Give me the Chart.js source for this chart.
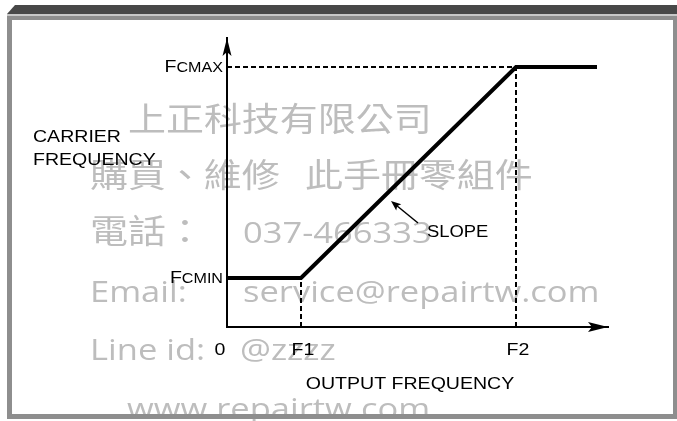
<!DOCTYPE html>
<html>
<head>
<meta charset="utf-8">
<script src="https://cdn.jsdelivr.net/npm/chart.js@4"></script>
<style>
html, body { margin: 0; padding: 0; background: #fff; }
canvas { display: block; }
</style>
</head>
<body>
<canvas id="chart" width="677" height="421"></canvas>
<script>
// values (schematic units)
const outputFreq = [0, 7.4, 28.9, 37];
const carrierFreq = [4.9, 4.9, 26, 26];
const xTickValues = [0, 7.4, 28.9];
const xTickLabels = ['0', 'F1', 'F2'];
const yTickValues = [4.9, 26];
const yTickLabels = ['FcMIN', 'FcMAX'];

const F1 = xTickValues[1];
const F2 = xTickValues[2];
const FC_MIN = yTickValues[0];
const FC_MAX = yTickValues[1];

const SX = 1.15; // the scan is a bit wider than tall
const LABEL_FONT = '"Liberation Sans", Arial, sans-serif';

// watermark text over the scan
const watermark = [
    { text: '上正科技有限公司', x: 128, y: 131, cjk: true },
    { text: '購買、維修', x: 90, y: 187, cjk: true },
    { text: '此手冊零組件', x: 305, y: 187, cjk: true },
    { text: '電話：', x: 90, y: 243, cjk: true },
    { text: '037-466333', x: 243, y: 243 },
    { text: 'Email:', x: 90, y: 302 },
    { text: 'service@repairtw.com', x: 243, y: 302 },
    { text: 'Line id:', x: 90, y: 360 },
    { text: '@zzzz', x: 240, y: 360 },
    { text: 'www.repairtw.com', x: 127, y: 419 }
];

function drawText(ctx, text, x, y, size, align, font) {
    ctx.save();
    ctx.font = size + 'px ' + (font || LABEL_FONT);
    ctx.textAlign = align || 'left';
    ctx.textBaseline = 'alphabetic';
    ctx.translate(x, y);
    ctx.scale(SX, 1);
    ctx.fillText(text, 0, 0);
    ctx.restore();
}

function arrowHead(ctx, x, y, angle, len, half, notch) {
    ctx.save();
    ctx.translate(x, y);
    ctx.rotate(angle);
    ctx.beginPath();
    ctx.moveTo(0, 0);
    ctx.lineTo(-len, -half);
    ctx.lineTo(-len + notch, 0);
    ctx.lineTo(-len, half);
    ctx.closePath();
    ctx.fill();
    ctx.restore();
}

const scanPlugin = {
    id: 'scan',
    beforeDraw(chart) {
        const ctx = chart.ctx;
        ctx.save();
        ctx.fillStyle = '#fff';
        ctx.fillRect(0, 0, chart.width, chart.height);
        ctx.fillStyle = '#bdbdbd';
        watermark.forEach(w => {
            if (w.cjk) drawText(ctx, w.text, w.x, w.y, 33, 'left', '"Noto Sans CJK TC", sans-serif');
            else drawText(ctx, w.text, w.x / 1, w.y, 30, 'left', '"Open Sans", sans-serif');
        });
        ctx.restore();
    },
    afterDraw(chart) {
        const ctx = chart.ctx;
        const area = chart.chartArea;
        const xs = chart.scales.x;
        const ys = chart.scales.y;
        ctx.save();
        ctx.fillStyle = '#000';
        ctx.strokeStyle = '#000';

        // axis arrows
        arrowHead(ctx, area.right, area.bottom, 0, 20, 5, 4);
        arrowHead(ctx, area.left, area.top, -Math.PI / 2, 18, 4.5, 4);

        // x tick labels
        xTickValues.forEach((v, i) => {
            const px = xs.getPixelForValue(v) + (i === 0 ? -7 : 2);
            drawText(ctx, xTickLabels[i], px, area.bottom + 28, 17, 'center');
        });

        // y tick labels: big F, smaller caps for the rest
        yTickValues.forEach((v, i) => {
            const py = ys.getPixelForValue(v) + 5;
            const head = yTickLabels[i].charAt(0);
            const rest = yTickLabels[i].slice(1).toUpperCase();
            ctx.font = '17px ' + LABEL_FONT;
            const wHead = ctx.measureText(head).width * SX;
            ctx.font = '14px ' + LABEL_FONT;
            const wRest = ctx.measureText(rest).width * SX;
            const right = area.left - 4;
            drawText(ctx, head, right - wRest - wHead, py, 17, 'left');
            drawText(ctx, rest, right - wRest, py, 14, 'left');
        });

        // axis titles
        drawText(ctx, 'CARRIER', 33, 142, 17, 'left');
        drawText(ctx, 'FREQUENCY', 33, 165, 17, 'left');
        drawText(ctx, 'OUTPUT FREQUENCY', 410, 389, 17, 'center');

        // slope pointer
        const tipX = xs.getPixelForValue(16.4), tipY = ys.getPixelForValue(12.6);
        const tailX = xs.getPixelForValue(19.1), tailY = ys.getPixelForValue(10.4);
        const ang = Math.atan2(tipY - tailY, tipX - tailX);
        ctx.lineWidth = 1.5;
        ctx.beginPath();
        ctx.moveTo(tailX, tailY);
        ctx.lineTo(tipX - Math.cos(ang) * 6, tipY - Math.sin(ang) * 6);
        ctx.stroke();
        arrowHead(ctx, tipX, tipY, ang, 10, 4, 2);
        drawText(ctx, 'SLOPE', xs.getPixelForValue(20.0), ys.getPixelForValue(9.0), 16, 'left');

        // frame of the scanned page
        ctx.fillStyle = '#484848';
        ctx.beginPath();
        ctx.moveTo(15, 5);
        ctx.lineTo(677, 5);
        ctx.lineTo(677, 14);
        ctx.lineTo(7, 14);
        ctx.closePath();
        ctx.fill();
        ctx.fillStyle = '#c8c8c8';
        ctx.fillRect(7, 14, 670, 2);
        ctx.fillStyle = '#8e8e8e';
        ctx.fillRect(7, 16, 670, 4);
        ctx.fillRect(7, 16, 5, 403);
        ctx.fillRect(673, 16, 4, 403);
        ctx.fillRect(7, 414, 670, 5);
        ctx.restore();
    }
};

const dashed = { borderColor: '#000', borderWidth: 2, borderDash: [5, 3], pointRadius: 0, fill: false, tension: 0 };

new Chart(document.getElementById('chart'), {
    type: 'line',
    data: {
        datasets: [
            {
                label: 'Carrier frequency',
                data: outputFreq.map((x, i) => ({ x: x, y: carrierFreq[i] })),
                borderColor: '#000',
                borderWidth: 4,
                pointRadius: 0,
                fill: false,
                tension: 0,
                clip: false
            },
            Object.assign({ label: 'FcMAX guide', data: [{ x: 0, y: FC_MAX }, { x: F2, y: FC_MAX }] }, dashed),
            Object.assign({ label: 'F1 guide', data: [{ x: F1, y: 0 }, { x: F1, y: FC_MIN }] }, dashed),
            Object.assign({ label: 'F2 guide', data: [{ x: F2, y: 0 }, { x: F2, y: FC_MAX }] }, dashed)
        ]
    },
    options: {
        responsive: false,
        animation: false,
        devicePixelRatio: 1,
        layout: { padding: { left: 227, right: 69, top: 38, bottom: 94 } },
        plugins: {
            legend: { display: false },
            tooltip: { enabled: false }
        },
        scales: {
            x: {
                type: 'linear',
                min: 0,
                max: 38.1,
                ticks: { display: false },
                grid: { display: false },
                border: { display: true, color: '#000', width: 2 },
                afterFit: s => { s.height = 0; }
            },
            y: {
                type: 'linear',
                min: 0,
                max: 28.9,
                ticks: { display: false },
                grid: { display: false },
                border: { display: true, color: '#000', width: 2 },
                afterFit: s => { s.width = 0; }
            }
        }
    },
    plugins: [scanPlugin]
});
</script>
</body>
</html>
